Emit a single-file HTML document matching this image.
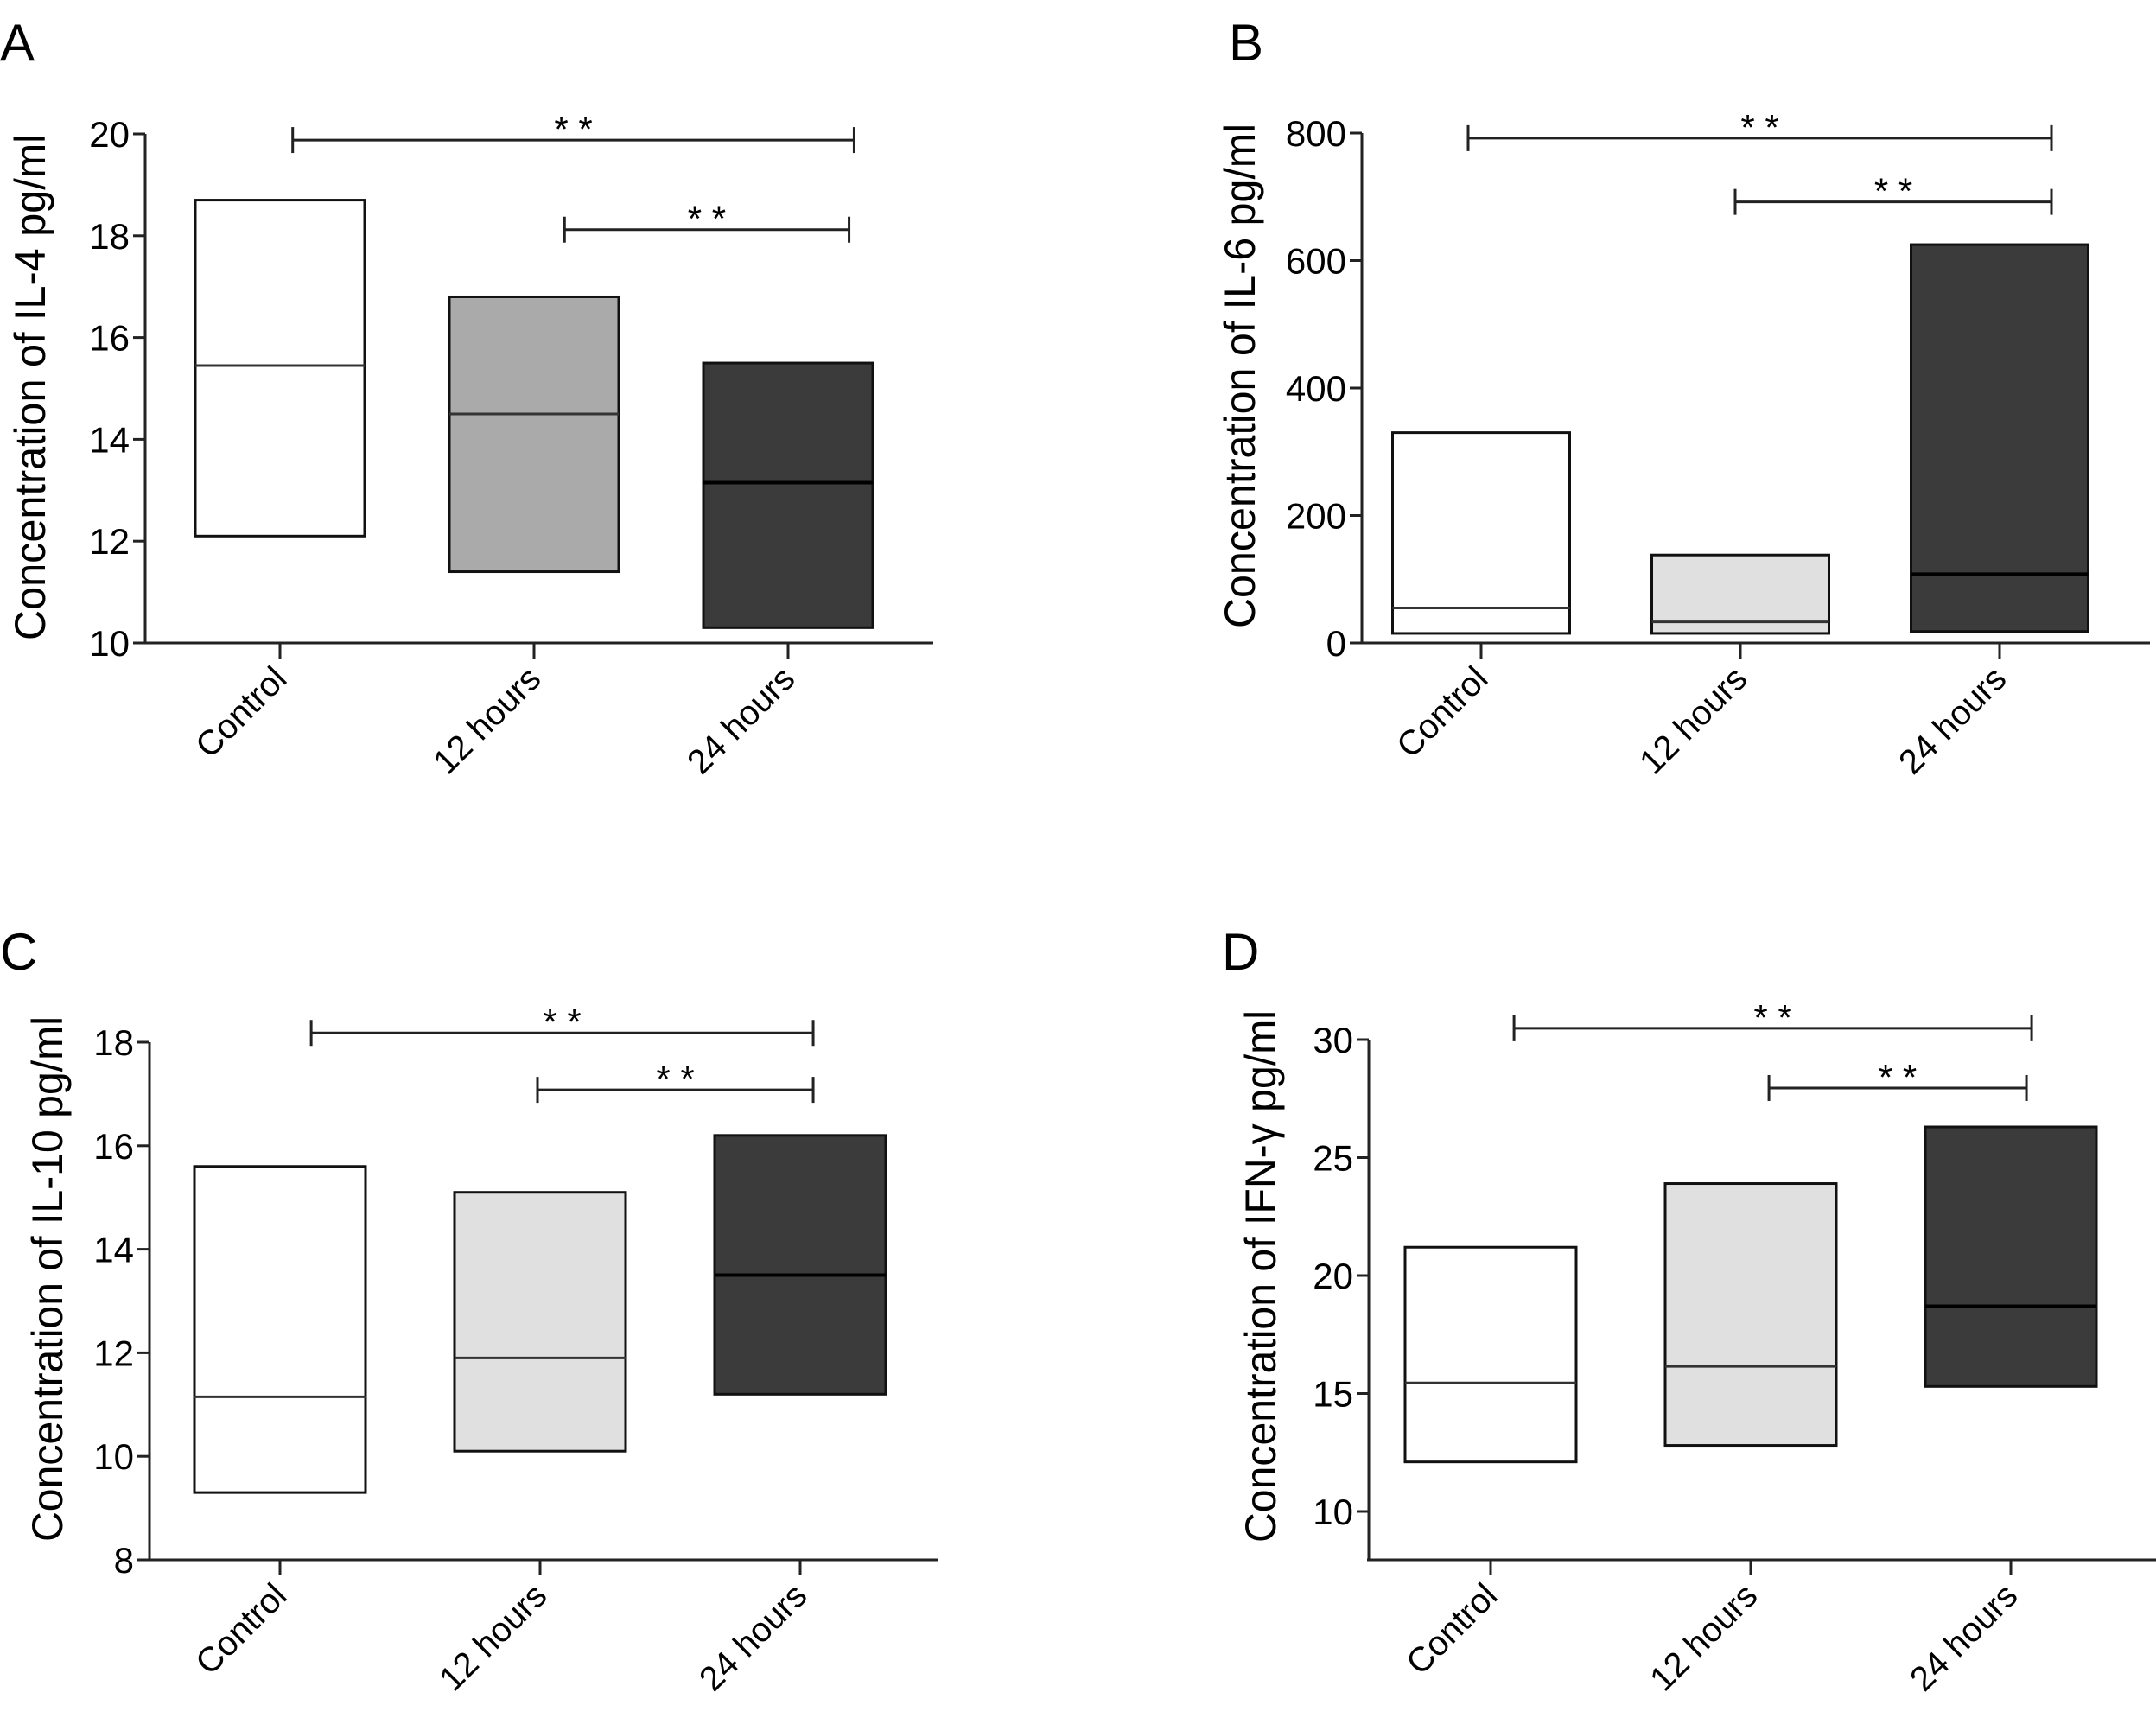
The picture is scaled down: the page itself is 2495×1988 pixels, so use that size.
<!DOCTYPE html>
<html><head><meta charset="utf-8"><style>
html,body{margin:0;padding:0;background:#fff;}
svg{display:block;font-family:"Liberation Sans",Arial,sans-serif;}
</style></head><body>
<svg id="fig" width="2495" height="1988" viewBox="0 0 2495 1988" xmlns="http://www.w3.org/2000/svg"></svg>
<script>
// ---- data ----
const categories = ["Control", "12 hours", "24 hours"];
const il4Low = [12.1, 11.4, 10.3];
const il4High = [18.7, 16.8, 15.5];
const il4Median = [15.45, 14.5, 13.15];
const il6Low = [15, 15, 18];
const il6High = [330, 138, 625];
const il6Median = [55, 33, 108];
const il10Low = [9.3, 10.1, 11.2];
const il10High = [15.6, 15.1, 16.2];
const il10Median = [11.15, 11.9, 13.5];
const ifnLow = [12.1, 12.8, 15.3];
const ifnHigh = [21.2, 23.9, 26.3];
const ifnMedian = [15.45, 16.15, 18.7];
const il4Ticks = [10, 12, 14, 16, 18, 20];
const il6Ticks = [0, 200, 400, 600, 800];
const il10Ticks = [8, 10, 12, 14, 16, 18];
const ifnTicks = [10, 15, 20, 25, 30];
// brackets: [fromCategoryPos, toCategoryPos, value]
const il4Brackets = [[0.05, 2.26, 19.88], [1.12, 2.24, 18.12]];
const il6Brackets = [[-0.05, 2.2, 792], [0.98, 2.2, 692]];
const il10Brackets = [[0.12, 2.05, 18.18], [0.99, 2.05, 17.08]];
const ifnBrackets = [[0.09, 2.08, 30.48], [1.07, 2.06, 27.95]];

const NS = "http://www.w3.org/2000/svg";
const svg = document.getElementById("fig");
function mk(tag, attrs, parent) {
  const e = document.createElementNS(NS, tag);
  for (const k in attrs) e.setAttribute(k, attrs[k]);
  (parent || svg).appendChild(e);
  return e;
}

const panels = [
  {id: "a", letter: "A", lx: 0, ly: 70, title: "Concentration of IL-4 pg/ml", tLen: 586, tx: 52, ty: 448,
   ax: 168, vMin: 10, vMax: 20, yMinPx: 744, yMaxPx: 155, axisY: 744, axisEnd: 1080,
   c0: 324, step: 294, bw: 196, low: il4Low, high: il4High, med: il4Median, ticks: il4Ticks,
   fills: ["#ffffff", "#aaaaaa", "#3b3b3b"], brackets: il4Brackets},
  {id: "b", letter: "B", lx: 1422, ly: 70, title: "Concentration of IL-6 pg/ml", tLen: 584, tx: 1452, ty: 435,
   ax: 1576, vMin: 0, vMax: 800, yMinPx: 744, yMaxPx: 154, axisY: 744, axisEnd: 2488,
   c0: 1714, step: 300, bw: 205, low: il6Low, high: il6High, med: il6Median, ticks: il6Ticks,
   fills: ["#ffffff", "#e0e0e0", "#3b3b3b"], brackets: il6Brackets},
  {id: "c", letter: "C", lx: 0, ly: 1122, title: "Concentration of IL-10 pg/ml", tLen: 608, tx: 72, ty: 1480,
   ax: 173, vMin: 8, vMax: 18, yMinPx: 1805, yMaxPx: 1206, axisY: 1805, axisEnd: 1085,
   c0: 324, step: 301, bw: 198, low: il10Low, high: il10High, med: il10Median, ticks: il10Ticks,
   fills: ["#ffffff", "#e0e0e0", "#3b3b3b"], brackets: il10Brackets},
  {id: "d", letter: "D", lx: 1414, ly: 1122, title: "Concentration of IFN-\u03b3 pg/ml", tLen: 616, tx: 1476, ty: 1477,
   ax: 1584, vMin: 10, vMax: 30, yMinPx: 1749, yMaxPx: 1203, axisY: 1805, axisEnd: 2495,
   c0: 1725, step: 301, bw: 198, low: ifnLow, high: ifnHigh, med: ifnMedian, ticks: ifnTicks,
   fills: ["#ffffff", "#e0e0e0", "#3b3b3b"], brackets: ifnBrackets}
];

panels.forEach(p => {
  const g = mk("g", {});
  
  
  const y = v => p.yMinPx - (v - p.vMin) / (p.vMax - p.vMin) * (p.yMinPx - p.yMaxPx);
  const x = i => p.c0 + i * p.step;

  const L = mk("text", {x: p.lx, y: p.ly, "font-size": 60, fill: "#000"}, g);
  L.textContent = p.letter;
  
  

  const topY = y(p.ticks[p.ticks.length - 1]);
  const ya = mk("line", {x1: p.ax, y1: topY, x2: p.ax, y2: p.axisY, stroke: "#222", "stroke-width": 3}, g);
  
  
  const xa = mk("line", {x1: p.ax - 2, y1: p.axisY, x2: p.axisEnd, y2: p.axisY, stroke: "#222", "stroke-width": 3}, g);
  
  

  p.ticks.forEach(t => {
    const ty = y(t);
    const tl = mk("line", {x1: p.ax - 14, y1: ty, x2: p.ax, y2: ty, stroke: "#222", "stroke-width": 3}, g);
    
    
    const tt = mk("text", {x: p.ax - 18, y: ty + 15, "font-size": 42, "text-anchor": "end", fill: "#000"}, g);
    tt.textContent = t;
    
    
  });

  const tt = mk("text", {x: p.tx, y: p.ty, "font-size": 50, "text-anchor": "middle", fill: "#000",
    transform: "rotate(-90 " + p.tx + " " + p.ty + ")", textLength: p.tLen, lengthAdjust: "spacingAndGlyphs"}, g);
  tt.textContent = p.title;
  
  

  categories.forEach((c, i) => {
    const cx = x(i);
    const tk = mk("line", {x1: cx, y1: p.axisY, x2: cx, y2: p.axisY + 18, stroke: "#222", "stroke-width": 3}, g);
    
    
    const lx = cx + 10, ly = p.axisY + 44;
    const lb = mk("text", {x: lx, y: ly, "font-size": 40, "text-anchor": "end", fill: "#000",
      transform: "rotate(-45 " + lx + " " + ly + ")"}, g);
    lb.textContent = c;
    
    

    const top = y(p.high[i]), bot = y(p.low[i]);
    const r = mk("rect", {x: cx - p.bw / 2, y: top, width: p.bw, height: bot - top,
      fill: p.fills[i], stroke: "#111", "stroke-width": 3}, g);
    
    
    const m = y(p.med[i]);
    const ml = mk("line", {x1: cx - p.bw / 2, y1: m, x2: cx + p.bw / 2, y2: m,
      stroke: i === 2 ? "#000" : "#333", "stroke-width": i === 2 ? 4 : 3}, g);
    
    
  });

  p.brackets.forEach(b => {
    const x1 = x(b[0]), x2 = x(b[1]), by = y(b[2]);
    const bg = mk("g", {stroke: "#222", "stroke-width": 3}, g);
    
    
    mk("line", {x1: x1, y1: by, x2: x2, y2: by}, bg);
    mk("line", {x1: x1, y1: by - 15, x2: x1, y2: by + 15}, bg);
    mk("line", {x1: x2, y1: by - 15, x2: x2, y2: by + 15}, bg);
    const st = mk("text", {x: (x1 + x2) / 2, y: by + 2, "font-size": 42, "text-anchor": "middle", fill: "#000"}, g);
    st.textContent = "* *";
    
    
  });
});
</script>
</body></html>
